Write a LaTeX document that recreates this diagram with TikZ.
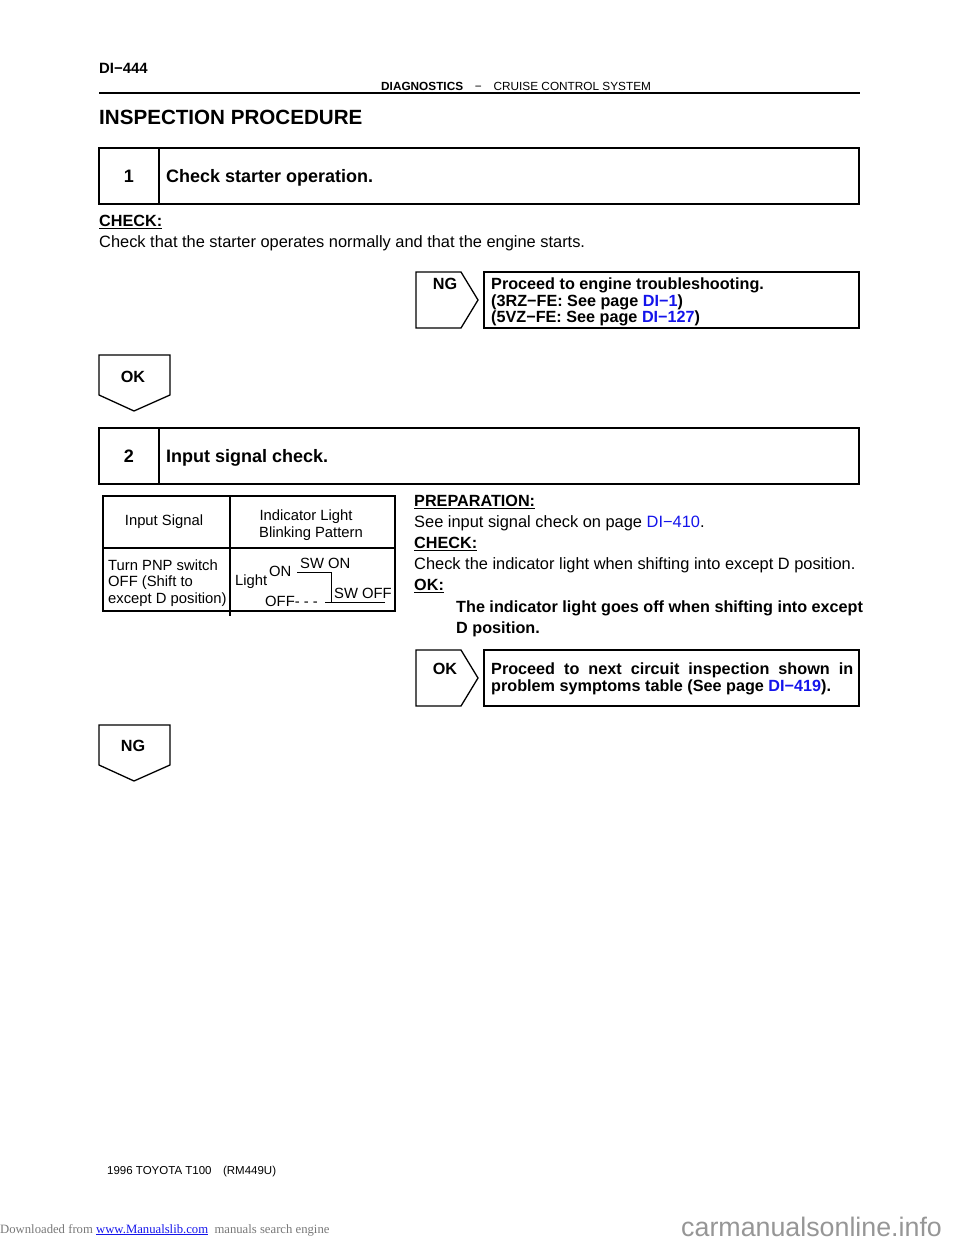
\documentclass[tikz,border=0pt]{standalone}
\usepackage{fontspec}
\setmainfont{Liberation Sans}
\newfontfamily\seriffont{Liberation Serif}
\definecolor{linkblue}{RGB}{20,20,235}
\definecolor{wmgray}{RGB}{120,120,120}
\definecolor{wmlight}{RGB}{150,150,150}
\newcommand{\lnk}[1]{\textcolor{linkblue}{#1}}
\begin{document}
\begin{tikzpicture}[x=1pt,y=-1pt,
  t/.style={anchor=base west,inner sep=0pt,font=\fontsize{16.4}{18}\selectfont},
  tb/.style={anchor=base west,inner sep=0pt,font=\fontsize{16.2}{18}\selectfont\bfseries},
  tc/.style={anchor=base,inner sep=0pt,font=\fontsize{16.2}{18}\selectfont\bfseries},
  th/.style={anchor=base west,inner sep=0pt,font=\fontsize{18}{20}\selectfont\bfseries},
  ts/.style={anchor=base west,inner sep=0pt,font=\fontsize{14.8}{16}\selectfont},
  tsc/.style={anchor=base,inner sep=0pt,font=\fontsize{14.8}{16}\selectfont},
  frame/.style={draw=black,line width=1.3pt},
  thin/.style={draw=black,line width=1.1pt}]
\useasboundingbox (0,0) rectangle (960,1242);

% header
\node[anchor=base west,inner sep=0pt,font=\fontsize{14.9}{16}\selectfont\bfseries] (pg) at (99,73) {DI−444};
\node[anchor=base west,inner sep=0pt,font=\fontsize{11.8}{13}\selectfont] (hd) at (381,90) {\textbf{DIAGNOSTICS}\quad−\quad CRUISE CONTROL SYSTEM};
\draw[line width=1.6pt] (99,93) -- (860,93);
\node[anchor=base west,inner sep=0pt,font=\fontsize{20.6}{22}\selectfont\bfseries] (title) at (99,124) {INSPECTION PROCEDURE};

% step 1
\draw[frame] (99,148) rectangle (859,204);
\draw[frame] (159,148) -- (159,204);
\node[anchor=base,inner sep=0pt,font=\fontsize{18}{20}\selectfont\bfseries] (n1) at (129,182.5) {1};
\node[th] (s1) at (166,182.5) {Check starter operation.};
\node[tb] (chk1) at (99,226.5) {\underline{CHECK:}};
\node[t] (chk1t) at (99,247.5) {Check that the starter operates normally and that the engine starts.};

% NG tab 1
\draw[frame] (416,272) -- (461,272) -- (478,300) -- (461,328) -- (416,328) -- cycle;
\node[tc] (ng1) at (445,289.5) {NG};
\draw[frame] (484,272) rectangle (859,328);
\node[tb] (ng1a) at (491,289.5) {Proceed to engine troubleshooting.};
\node[tb] (ng1b) at (491,306) {(3RZ−FE: See page \lnk{DI−1})};
\node[tb] (ng1c) at (491,322.5) {(5VZ−FE: See page \lnk{DI−127})};

% OK down tab
\draw[frame] (99,355) -- (170,355) -- (170,395) -- (134,411) -- (99,395) -- cycle;
\node[tc] (ok1) at (133,382.5) {OK};

% step 2
\draw[frame] (99,428) rectangle (859,484);
\draw[frame] (159,428) -- (159,484);
\node[anchor=base,inner sep=0pt,font=\fontsize{18}{20}\selectfont\bfseries] (n2) at (129,462) {2};
\node[th] (s2) at (166,462) {Input signal check.};

% table
\draw[thin] (103,496) rectangle (395,611);
\draw[thin] (103,548) -- (395,548);
\draw[thin] (230,496) -- (230,616);
\node[tsc] (th1) at (164,525) {Input Signal};
\node[tsc] (th2a) at (306,520) {Indicator Light};
\node[tsc] (th2b) at (311,537) {Blinking Pattern};
\node[ts] (td1a) at (108,570) {Turn PNP switch};
\node[ts] (td1b) at (108,586) {OFF (Shift to};
\node[ts] (td1c) at (108,603) {except D position)};
\node[ts] (lt) at (235,585) {Light};
\node[ts] (lon) at (269,576) {ON};
\node[ts] (loff) at (265,606) {OFF- - -};
\node[ts] (swon) at (300,568) {SW ON};
\node[ts] (swoff) at (334,598) {SW OFF};
\draw[line width=1pt] (297,572) -- (331,572) -- (331,602);
\draw[line width=1pt] (325,602) -- (385,602);

% right text
\node[tb] (prep) at (414,506.5) {\underline{PREPARATION:}};
\node[t] (prept) at (414,527.5) {See input signal check on page \lnk{DI−410}.};
\node[tb] (chk2) at (414,548.5) {\underline{CHECK:}};
\node[t] (chk2t) at (414,569.5) {Check the indicator light when shifting into except D position.};
\node[tb] (okl) at (414,590.5) {\underline{OK:}};
\node[tb] (oka) at (456,612.5) {The indicator light goes off when shifting into except};
\node[tb] (okb) at (456,633.5) {D position.};

% OK tab 2
\draw[frame] (416,650) -- (461,650) -- (478,678) -- (461,706) -- (416,706) -- cycle;
\node[tc] (ok2) at (445,674.5) {OK};
\draw[frame] (484,650) rectangle (859,706);
\node[anchor=base west,inner sep=0pt,text width=362pt,align=justify,font=\fontsize{16.2}{16.5}\selectfont\bfseries] (ok2t) at (491,674.5) {Proceed to next circuit inspection shown in\linebreak problem symptoms table (See page \lnk{DI−419}).};

% NG down tab
\draw[frame] (99,725) -- (170,725) -- (170,765) -- (134,781) -- (99,765) -- cycle;
\node[tc] (ng2) at (133,751.5) {NG};

% footer
\node[anchor=base west,inner sep=0pt,font=\fontsize{11.5}{13}\selectfont] (ft) at (107,1174) {1996 TOYOTA T100\quad (RM449U)};
\node[anchor=base west,inner sep=0pt,font=\seriffont\fontsize{12.7}{15}\selectfont,text=wmgray] (dl) at (0,1233) {Downloaded from \textcolor{linkblue}{\underline{www.Manualslib.com}}\ \ manuals search engine};
\node[anchor=base west,inner sep=0pt,font=\fontsize{26.8}{28}\selectfont,text=wmlight] (cm) at (681,1236) {carmanualsonline.info};
\end{tikzpicture}
\end{document}
